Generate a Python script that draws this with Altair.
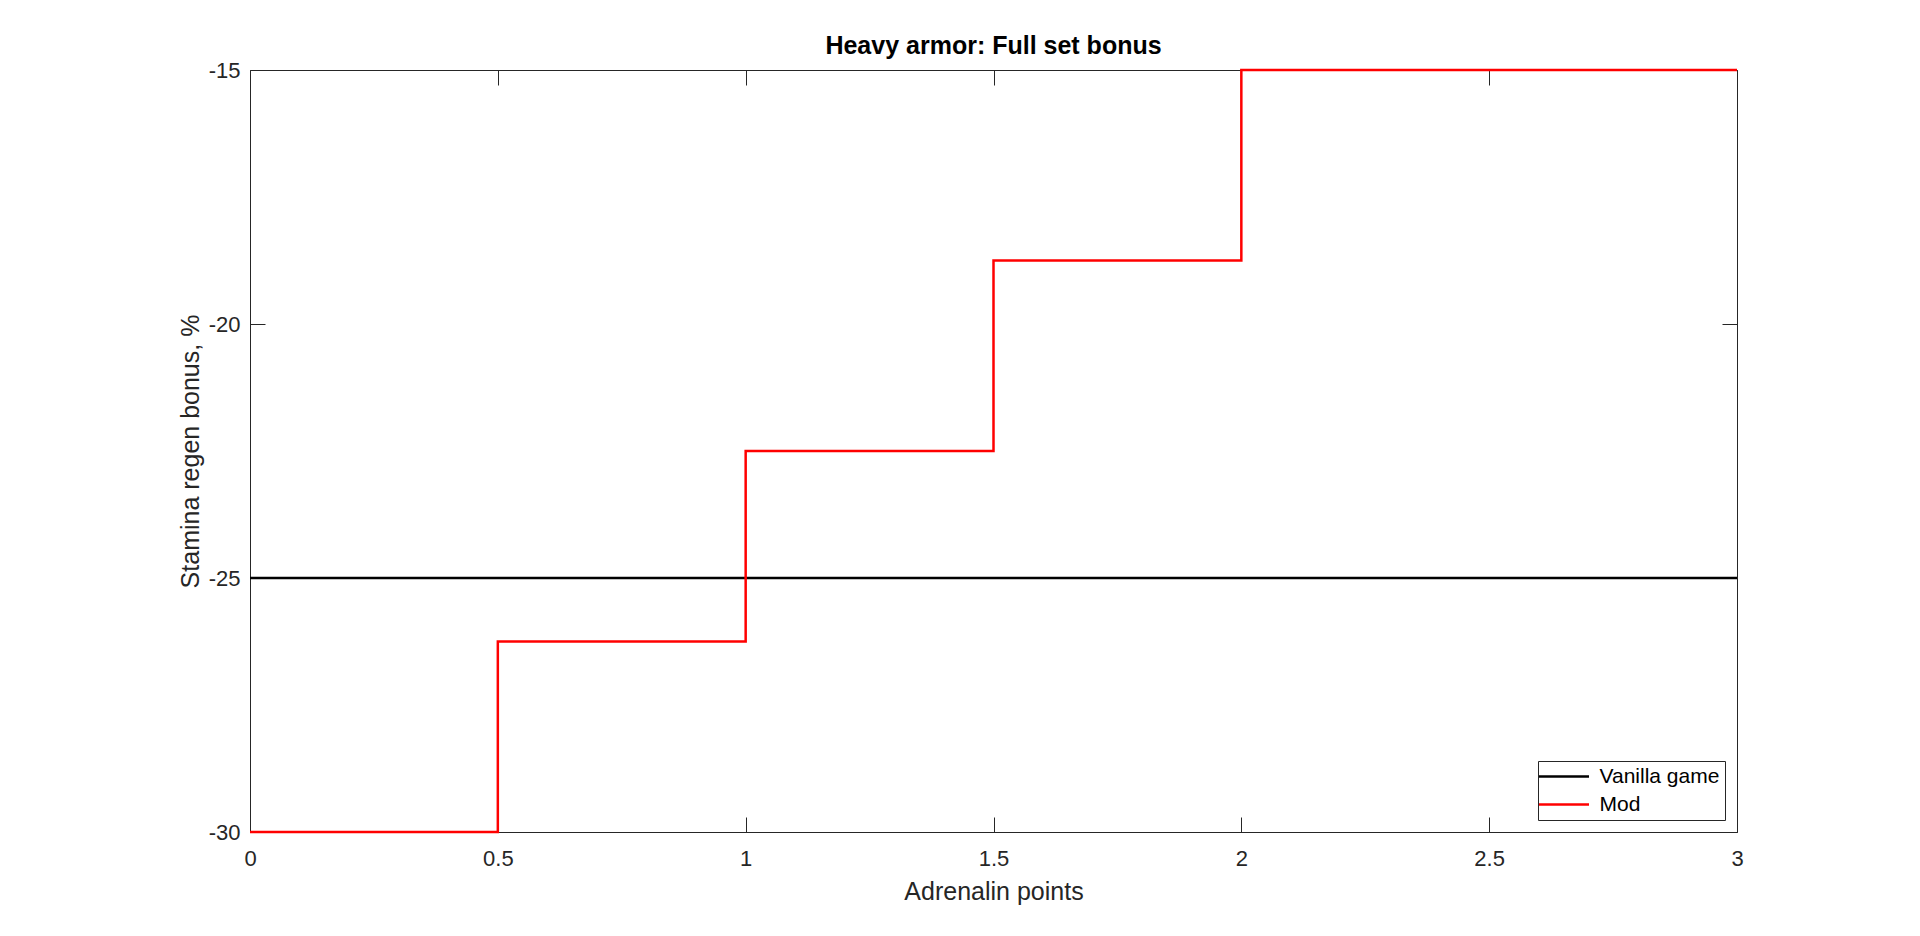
import altair as alt
import pandas as pd

# ---- data ----
x_mod = [0, 0.5, 1, 1.5, 2, 3]
y_mod = [-30, -26.25, -22.5, -18.75, -15, -15]
x_vanilla = [0, 3]
y_vanilla = [-25, -25]
series = ["Vanilla game", "Mod"]
colors = ["#000000", "#ff0000"]
x_ticks = [0, 0.5, 1, 1.5, 2, 2.5, 3]
y_ticks = [-30, -25, -20, -15]

df = pd.concat([
    pd.DataFrame({"x": x_vanilla, "y": y_vanilla, "series": series[0]}),
    pd.DataFrame({"x": x_mod, "y": y_mod, "series": series[1]}),
], ignore_index=True)

FONT = "Liberation Sans"
AX = "#262626"
HYPHEN = "replace(datum.label, '\u2212', '-')"
xs = alt.Scale(domain=[0, 3], nice=False, zero=False)
ys = alt.Scale(domain=[-30, -15], nice=False, zero=False)

base = alt.Chart(df)

lines = base.mark_line(interpolate="step-after", strokeWidth=2.5).encode(
    x=alt.X("x:Q", scale=xs, axis=alt.Axis(
        orient="bottom", values=x_ticks, format="~g", offset=-15, tickSize=15,
        labelPadding=16, labelFlush=False, domain=False, grid=False,
        title="Adrenalin points", titlePadding=10)),
    y=alt.Y("y:Q", scale=ys, axis=alt.Axis(
        orient="left", values=y_ticks, format="~g", labelExpr=HYPHEN,
        offset=-15, tickSize=15, labelPadding=10, labelFlush=False,
        domain=False, grid=False, title="Stamina regen bonus, %",
        titlePadding=5)),
    color=alt.Color("series:N", scale=alt.Scale(domain=series, range=colors),
                    legend=alt.Legend(
                        title=None, orient="bottom-right", offset=12,
                        strokeColor=AX, fillColor="white", padding=5,
                        labelFont=FONT, labelFontSize=21, labelColor="#000000",
                        symbolType="M-5,0H5", symbolSize=100, symbolStrokeWidth=2.5,
                        symbolOffset=10.5, labelOffset=25, rowPadding=6)),
)

frame = base.mark_line(opacity=0).encode(
    x=alt.X("x:Q", scale=xs, axis=alt.Axis(
        orient="top", values=x_ticks, labels=False, title=None, offset=-15,
        tickSize=15, domain=False, grid=False)),
    y=alt.Y("y:Q", scale=ys, axis=alt.Axis(
        orient="right", values=y_ticks, labels=False, title=None, offset=-15,
        tickSize=15, domain=False, grid=False)),
    detail="series:N",
)

chart = alt.layer(lines, frame).resolve_axis(
    x="independent", y="independent"
).properties(
    width=1487, height=762,
    title=alt.Title("Heavy armor: Full set bonus", font=FONT, fontSize=25,
                    fontWeight="bold", color="#000000", offset=0),
    autosize=alt.AutoSizeParams(type="none"),
    padding={"left": 242, "top": 62, "right": 175, "bottom": 80},
).configure_view(
    stroke=AX, strokeWidth=1
).configure_axis(
    labelFont=FONT, titleFont=FONT, labelColor=AX, tickColor=AX, titleColor=AX,
    labelFontSize=22, titleFontSize=25, titleFontWeight="normal", tickWidth=1,
)

chart.save("out.html", embed_options={"renderer": "svg", "actions": False})
